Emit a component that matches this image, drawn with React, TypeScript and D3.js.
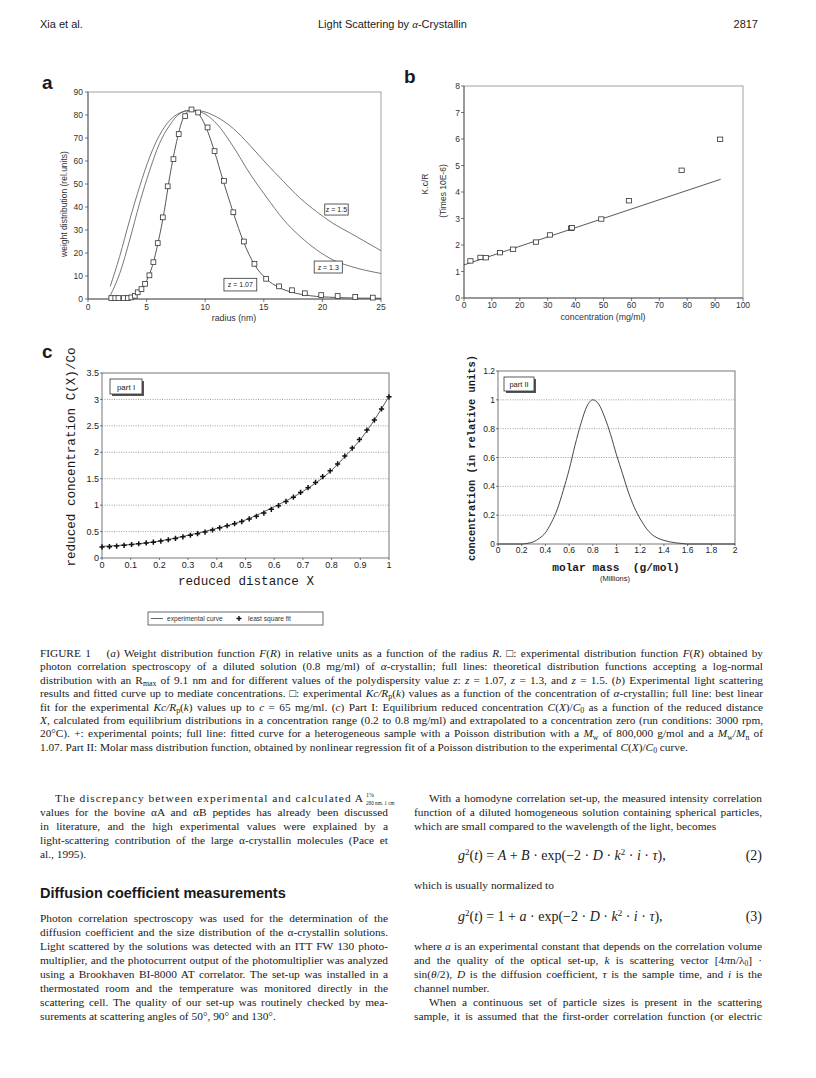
import React from 'react';
import * as d3 from 'd3';

// ---------- Panel a data ----------
const A_X_TICKS = [0, 5, 10, 15, 20, 25];
const A_Y_TICKS = [0, 10, 20, 30, 40, 50, 60, 70, 80, 90];
const A_SQ_X = [1.99, 2.33, 2.6, 3.05, 3.4, 3.7, 3.99, 4.24, 4.56, 4.87, 5.24, 5.58, 5.95, 6.38, 6.8, 7.29, 7.74, 8.29, 8.83, 9.4, 10.2, 10.8, 11.6, 12.4, 13.3, 14.2, 15.2, 16.3, 17.4, 18.5, 19.9, 21.3, 22.8, 24.3];
const A_SQ_Y = [0.4, 0.4, 0.4, 0.4, 0.4, 0.7, 1.4, 2.9, 4.3, 6.6, 10.3, 16.0, 24.3, 35.5, 49, 60.8, 71.7, 79.5, 82.4, 81.1, 74.6, 64.3, 51.4, 37.7, 25.0, 15.3, 8.8, 5.5, 3.8, 2.5, 1.7, 1.3, 0.9, 0.6];
const A_Z107_X = [1.9, 2.5, 3, 3.5, 4, 4.5, 5, 5.5, 6, 6.5, 7, 7.5, 8, 8.5, 8.8, 9.2, 9.7, 10.2, 10.8, 11.5, 12.4, 13.3, 14.2, 15.2, 16.3, 17.5, 19, 21, 23, 25];
const A_Z107_Y = [0, 0.1, 0.3, 0.6, 1.5, 4, 8, 14.5, 25, 38, 54, 67, 77, 81.5, 82.4, 81.8, 78.5, 73, 64, 52, 37.5, 24.5, 15, 8.8, 5, 2.8, 1.4, 0.7, 0.4, 0.3];
const A_Z13_X = [1.9, 2.7, 3.56, 4.4, 5.27, 6.1, 6.98, 7.83, 8.7, 9.54, 10.96, 12.4, 13.8, 15.2, 16.7, 18.1, 19.5, 20.9, 22.4, 25];
const A_Z13_Y = [1.5, 11, 25.7, 41.6, 56, 67.6, 75.6, 80.6, 82, 81.4, 76.3, 66.2, 54.6, 44.5, 34.4, 27.2, 21.4, 17, 14.2, 11.1];
const A_Z15_X = [1.9, 2.7, 3.56, 4.4, 5.27, 6.1, 6.98, 7.83, 8.7, 9.54, 10.96, 12.4, 13.8, 15.2, 16.7, 18.1, 19.5, 20.9, 22.4, 25];
const A_Z15_Y = [5.5, 18.5, 34.4, 48.8, 61.8, 71.2, 77.7, 80.9, 82, 81.8, 79.2, 74.1, 66.9, 59, 51, 43.8, 38, 32.9, 28.6, 21];
const A_LABELS = ['z = 1.5', 'z = 1.3', 'z = 1.07'];

// ---------- Panel b data ----------
const B_X_TICKS = [0, 10, 20, 30, 40, 50, 60, 70, 80, 90, 100];
const B_Y_TICKS = [0, 1, 2, 3, 4, 5, 6, 7, 8];
const B_SQ_X = [2.3, 5.9, 7.8, 12.9, 17.6, 25.8, 30.8, 38.4, 38.7, 49.2, 59.1, 78, 91.8];
const B_SQ_Y = [1.4, 1.53, 1.52, 1.71, 1.84, 2.11, 2.38, 2.63, 2.65, 2.98, 3.67, 4.82, 5.99];
const B_FIT_X = [0, 92];
const B_FIT_Y = [1.25, 4.48];

// ---------- Panel c part I data ----------
const C1_X_TICKS = [0, 0.1, 0.2, 0.3, 0.4, 0.5, 0.6, 0.7, 0.8, 0.9, 1];
const C1_X_LABELS = ['0', '0.1', '0.2', '0.3', '0.4', '0.5', '0.6', '0.7', '0.8', '0.9', '1'];
const C1_Y_TICKS = [0, 0.5, 1, 1.5, 2, 2.5, 3, 3.5];
const C1_Y_LABELS = ['0', '0.5', '1', '1.5', '2', '2.5', '3', '3.5'];
const C1_PT_X = [0, 0.026, 0.051, 0.077, 0.103, 0.128, 0.154, 0.179, 0.205, 0.231, 0.256, 0.282, 0.308, 0.333, 0.359, 0.385, 0.41, 0.436, 0.462, 0.487, 0.513, 0.538, 0.564, 0.59, 0.615, 0.641, 0.667, 0.692, 0.718, 0.744, 0.769, 0.795, 0.821, 0.846, 0.872, 0.897, 0.923, 0.949, 0.974, 1.0];
const C1_PT_Y = [0.21, 0.215, 0.225, 0.24, 0.255, 0.27, 0.285, 0.3, 0.32, 0.345, 0.37, 0.4, 0.43, 0.46, 0.49, 0.53, 0.57, 0.61, 0.65, 0.69, 0.74, 0.79, 0.85, 0.92, 0.99, 1.07, 1.15, 1.24, 1.33, 1.43, 1.54, 1.65, 1.78, 1.93, 2.08, 2.24, 2.42, 2.61, 2.82, 3.05];
const C1_CURVE_X = [0, 0.1, 0.2, 0.3, 0.4, 0.5, 0.6, 0.7, 0.8, 0.85, 0.9, 0.95, 1];
const C1_CURVE_Y = [0.22, 0.255, 0.32, 0.43, 0.56, 0.72, 0.97, 1.26, 1.66, 1.94, 2.24, 2.62, 3.06];

// ---------- Panel c part II data ----------
const C2_X_TICKS = [0, 0.2, 0.4, 0.6, 0.8, 1, 1.2, 1.4, 1.6, 1.8, 2];
const C2_X_LABELS = ['0', '0.2', '0.4', '0.6', '0.8', '1', '1.2', '1.4', '1.6', '1.8', '2'];
const C2_Y_TICKS = [0, 0.2, 0.4, 0.6, 0.8, 1, 1.2];
const C2_Y_LABELS = ['0', '0.2', '0.4', '0.6', '0.8', '1', '1.2'];
const C2_X = [0, 0.2, 0.25, 0.3, 0.35, 0.4, 0.45, 0.5, 0.55, 0.6, 0.65, 0.7, 0.75, 0.8, 0.85, 0.9, 0.95, 1.0, 1.05, 1.1, 1.15, 1.2, 1.25, 1.3, 1.35, 1.4, 1.45, 1.5, 1.55, 1.6, 2.0];
const C2_Y = [0, 0, 0.005, 0.015, 0.04, 0.078, 0.148, 0.24, 0.37, 0.515, 0.685, 0.836, 0.955, 1.0, 0.97, 0.88, 0.76, 0.618, 0.49, 0.36, 0.255, 0.175, 0.11, 0.065, 0.04, 0.025, 0.015, 0.008, 0.004, 0, 0];

const SANS = 'Liberation Sans, Arial, sans-serif';
const SERIF = 'Liberation Serif, Times New Roman, serif';
const MONO = 'Liberation Mono, Courier New, monospace';
const INK = '#1a1a1a';

// Justified text line: distributes extra width over word spaces
function JText({ x, y, width, fs, family = SERIF, children }: { x: number; y: number; width?: number; fs: number; family?: string; children: React.ReactNode }) {
  const ref = React.useRef<SVGTextElement>(null);
  React.useLayoutEffect(() => {
    const el = ref.current;
    if (!el || !width) return;
    el.setAttribute('word-spacing', '0');
    const nat = el.getComputedTextLength();
    const spaces = (el.textContent || '').split(' ').length - 1;
    if (spaces > 0) el.setAttribute('word-spacing', String((width - nat) / spaces));
  });
  return (
    <text ref={ref} x={x} y={y} fontFamily={family} fontSize={fs} fill={INK} style={{ whiteSpace: 'pre' }}>{children}</text>
  );
}

function PanelA() {
  const x = d3.scaleLinear().domain([0, 25]).range([88, 381]);
  const y = d3.scaleLinear().domain([0, 90]).range([299, 92]);
  const mk = (xs: number[], ys: number[]) =>
    d3.line<number>().x((d) => x(d)).y((_, i) => y(ys[i])).curve(d3.curveMonotoneX)(xs) || '';
  const labelBoxes = [
    { t: A_LABELS[0], x0: 20.2, x1: 22.2, y0: 41.3, y1: 36.5 },
    { t: A_LABELS[1], x0: 19.3, x1: 21.7, y0: 16.5, y1: 11.3 },
    { t: A_LABELS[2], x0: 11.6, x1: 14.4, y0: 9.0, y1: 3.5 },
  ];
  return (
    <g>
      <text x={42} y={89} fontFamily={SANS} fontWeight="bold" fontSize={19} fill={INK}>a</text>
      <rect x={88} y={92} width={293} height={207} fill="none" stroke="#8a8a8a" strokeWidth={0.8} />
      <line x1={88} x2={88} y1={92} y2={299} stroke="#444" strokeWidth={0.8} />
      <line x1={88} x2={381} y1={299} y2={299} stroke="#444" strokeWidth={0.8} />
      {A_Y_TICKS.map((t) => (
        <g key={'ay' + t}>
          <line x1={85} x2={88} y1={y(t)} y2={y(t)} stroke="#444" strokeWidth={0.7} />
          <text x={83} y={y(t) + 3} textAnchor="end" fontFamily={SANS} fontSize={8.5} fill="#333">{t}</text>
        </g>
      ))}
      {A_X_TICKS.map((t) => (
        <g key={'ax' + t}>
          <line x1={x(t)} x2={x(t)} y1={299} y2={302} stroke="#444" strokeWidth={0.7} />
          <text x={x(t)} y={310} textAnchor="middle" fontFamily={SANS} fontSize={8.5} fill="#333">{t}</text>
        </g>
      ))}
      <text x={234} y={321} textAnchor="middle" fontFamily={SANS} fontSize={8.8} fill="#333">radius (nm)</text>
      <text transform="translate(67,204) rotate(-90)" textAnchor="middle" fontFamily={SANS} fontSize={8.5} fill="#333">weight distribution (rel.units)</text>
      <path d={mk(A_Z15_X, A_Z15_Y)} fill="none" stroke="#555" strokeWidth={0.8} />
      <path d={mk(A_Z13_X, A_Z13_Y)} fill="none" stroke="#555" strokeWidth={0.8} />
      <path d={mk(A_Z107_X, A_Z107_Y)} fill="none" stroke="#444" strokeWidth={0.9} />
      {A_SQ_X.map((v, i) => (
        <rect key={'as' + i} x={x(v) - 2.4} y={y(A_SQ_Y[i]) - 2.4} width={4.8} height={4.8} fill="#fff" stroke="#333" strokeWidth={0.8} />
      ))}
      {labelBoxes.map((b) => (
        <g key={b.t}>
          <rect x={x(b.x0)} y={y(b.y0)} width={x(b.x1) - x(b.x0)} height={y(b.y1) - y(b.y0)} fill="#fff" stroke="#333" strokeWidth={0.8} />
          <text x={(x(b.x0) + x(b.x1)) / 2} y={(y(b.y0) + y(b.y1)) / 2 + 2.5} textAnchor="middle" fontFamily={SANS} fontSize={7} fill="#222">{b.t}</text>
        </g>
      ))}
    </g>
  );
}

function PanelB() {
  const x = d3.scaleLinear().domain([0, 100]).range([464, 743]);
  const y = d3.scaleLinear().domain([0, 8]).range([298, 86]);
  const fit = d3.line<number>().x((d) => x(d)).y((_, i) => y(B_FIT_Y[i]))(B_FIT_X) || '';
  return (
    <g>
      <text x={404} y={83} fontFamily={SANS} fontWeight="bold" fontSize={19} fill={INK}>b</text>
      <rect x={464} y={86} width={279} height={212} fill="none" stroke="#8a8a8a" strokeWidth={0.8} />
      <line x1={464} x2={464} y1={86} y2={298} stroke="#444" strokeWidth={0.8} />
      <line x1={464} x2={743} y1={298} y2={298} stroke="#444" strokeWidth={0.8} />
      {B_Y_TICKS.map((t) => (
        <g key={'by' + t}>
          <line x1={461} x2={464} y1={y(t)} y2={y(t)} stroke="#444" strokeWidth={0.7} />
          <text x={460} y={y(t) + 3} textAnchor="end" fontFamily={SANS} fontSize={8.5} fill="#333">{t}</text>
        </g>
      ))}
      {B_X_TICKS.map((t) => (
        <g key={'bx' + t}>
          <line x1={x(t)} x2={x(t)} y1={298} y2={301} stroke="#444" strokeWidth={0.7} />
          <text x={x(t)} y={308} textAnchor="middle" fontFamily={SANS} fontSize={8.5} fill="#333">{t}</text>
        </g>
      ))}
      <text x={603} y={320} textAnchor="middle" fontFamily={SANS} fontSize={8.8} fill="#333">concentration (mg/ml)</text>
      <text transform="translate(428,184) rotate(-90)" textAnchor="middle" fontFamily={SANS} fontSize={8.5} fill="#333">K.c/R</text>
      <text transform="translate(446,191) rotate(-90)" textAnchor="middle" fontFamily={SANS} fontSize={8.5} fill="#333">(Times 10E-6)</text>
      <path d={fit} fill="none" stroke="#444" strokeWidth={0.9} />
      {B_SQ_X.map((v, i) => (
        <rect key={'bs' + i} x={x(v) - 2.6} y={y(B_SQ_Y[i]) - 2.2} width={5.2} height={4.4} fill="#fff" stroke="#333" strokeWidth={0.8} />
      ))}
    </g>
  );
}

function PanelC1() {
  const x = d3.scaleLinear().domain([0, 1]).range([102, 389]);
  const y = d3.scaleLinear().domain([0, 3.5]).range([558, 373]);
  const curve = d3.line<number>().x((d) => x(d)).y((_, i) => y(C1_CURVE_Y[i])).curve(d3.curveMonotoneX)(C1_CURVE_X) || '';
  return (
    <g>
      <text x={42} y={358} fontFamily={SANS} fontWeight="bold" fontSize={19} fill={INK}>c</text>
      {C1_Y_TICKS.filter((t) => t > 0 && t < 3.5).map((t) => (
        <line key={'c1g' + t} x1={102} x2={389} y1={y(t)} y2={y(t)} stroke="#777" strokeWidth={0.7} strokeDasharray="1,1.4" />
      ))}
      <rect x={102} y={373} width={287} height={185} fill="none" stroke="#555" strokeWidth={0.8} />
      {C1_Y_TICKS.map((t, i) => (
        <g key={'c1y' + t}>
          <line x1={100} x2={102} y1={y(t)} y2={y(t)} stroke="#444" strokeWidth={0.7} />
          <text x={99} y={y(t) + 3.2} textAnchor="end" fontFamily={SANS} fontSize={9} fill="#222">{C1_Y_LABELS[i]}</text>
        </g>
      ))}
      {C1_X_TICKS.map((t, i) => (
        <g key={'c1x' + t}>
          <line x1={x(t)} x2={x(t)} y1={558} y2={560} stroke="#444" strokeWidth={0.7} />
          <text x={x(t)} y={568} textAnchor="middle" fontFamily={SANS} fontSize={9} fill="#222">{C1_X_LABELS[i]}</text>
        </g>
      ))}
      <text x={246} y={585} textAnchor="middle" fontFamily={MONO} fontSize={12.6} fill={INK}>reduced distance X</text>
      <text transform="translate(75,457) rotate(-90)" textAnchor="middle" fontFamily={MONO} fontSize={12.6} fill={INK}>reduced concentration C(X)/Co</text>
      <rect x={112} y={381} width={32} height={15} fill="#555" />
      <rect x={110} y={379} width={32} height={15} fill="#fff" stroke="#333" strokeWidth={0.8} />
      <text x={126} y={390} textAnchor="middle" fontFamily={SANS} fontSize={8} fill="#222">part I</text>
      <path d={curve} fill="none" stroke="#444" strokeWidth={0.9} />
      {C1_PT_X.map((v, i) => (
        <path key={'c1p' + i} d={`M${x(v) - 2.6},${y(C1_PT_Y[i])}H${x(v) + 2.6}M${x(v)},${y(C1_PT_Y[i]) - 2.6}V${y(C1_PT_Y[i]) + 2.6}`} stroke="#111" strokeWidth={1.5} />
      ))}
      <rect x={148} y={612} width={175} height={13} fill="#fff" stroke="#444" strokeWidth={0.8} />
      <line x1={151} x2={163} y1={618.5} y2={618.5} stroke="#555" strokeWidth={0.9} />
      <text x={167} y={621} fontFamily={SANS} fontSize={6.6} fill="#333">experimental curve</text>
      <path d="M236.5,618.5H241.5M239,616V621" stroke="#111" strokeWidth={1.4} />
      <text x={248} y={621} fontFamily={SANS} fontSize={6.6} fill="#333">least square fit</text>
    </g>
  );
}

function PanelC2() {
  const x = d3.scaleLinear().domain([0, 2]).range([498, 735]);
  const y = d3.scaleLinear().domain([0, 1.2]).range([544, 371]);
  const curve = d3.line<number>().x((d) => x(d)).y((_, i) => y(C2_Y[i])).curve(d3.curveMonotoneX)(C2_X) || '';
  return (
    <g>
      {C2_Y_TICKS.filter((t) => t > 0 && t < 1.2).map((t) => (
        <line key={'c2g' + t} x1={498} x2={735} y1={y(t)} y2={y(t)} stroke="#777" strokeWidth={0.7} strokeDasharray="1,1.4" />
      ))}
      <rect x={498} y={371} width={237} height={173} fill="none" stroke="#555" strokeWidth={0.8} />
      {C2_Y_TICKS.map((t, i) => (
        <g key={'c2y' + t}>
          <line x1={496} x2={498} y1={y(t)} y2={y(t)} stroke="#444" strokeWidth={0.7} />
          <text x={495} y={y(t) + 3} textAnchor="end" fontFamily={SANS} fontSize={8.5} fill="#222">{C2_Y_LABELS[i]}</text>
        </g>
      ))}
      {C2_X_TICKS.map((t, i) => (
        <g key={'c2x' + t}>
          <line x1={x(t)} x2={x(t)} y1={544} y2={546} stroke="#444" strokeWidth={0.7} />
          <text x={x(t)} y={553} textAnchor="middle" fontFamily={SANS} fontSize={8.5} fill="#222">{C2_X_LABELS[i]}</text>
        </g>
      ))}
      <text x={616} y={571} textAnchor="middle" fontFamily={MONO} fontWeight="bold" fontSize={11.2} fill={INK} style={{ whiteSpace: 'pre' }}>{'molar mass  (g/mol)'}</text>
      <text x={615} y={581} textAnchor="middle" fontFamily={SANS} fontSize={7.5} fill="#222">(Millions)</text>
      <text transform="translate(475,458) rotate(-90)" textAnchor="middle" fontFamily={MONO} fontWeight="bold" fontSize={10.4} fill={INK}>concentration (in relative units)</text>
      <rect x={506} y={379} width={30} height={14} fill="#555" />
      <rect x={504} y={377} width={30} height={14} fill="#fff" stroke="#333" strokeWidth={0.8} />
      <text x={519} y={387} textAnchor="middle" fontFamily={SANS} fontSize={7.5} fill="#222">part II</text>
      <path d={curve} fill="none" stroke="#333" strokeWidth={0.9} />
    </g>
  );
}

const I = ({ children }: { children: React.ReactNode }) => <tspan fontStyle="italic">{children}</tspan>;

function Caption() {
  const X0 = 40;
  const W = 723;
  const fs = 11.3;
  const y0 = 657;
  const dy = 13.4;
  const sub = (s: string, k: string) => <tspan key={k} dy={2.2} fontSize={7.8}>{s}</tspan>;
  const lines: React.ReactNode[] = [
    <>{'FIGURE 1\u2003 ('}<I>a</I>{') Weight distribution function '}<I>F</I>{'('}<I>R</I>{') in relative units as a function of the radius '}<I>R</I>{'. \u25A1: experimental distribution function '}<I>F</I>{'('}<I>R</I>{') obtained by'}</>,
    <>{'photon correlation spectroscopy of a diluted solution (0.8 mg/ml) of '}<I>{'\u03B1'}</I>{'-crystallin; full lines: theoretical distribution functions accepting a log-normal'}</>,
    <>{'distribution with an R'}{sub('max', 'l3')}<tspan dy={-2.2}>{' of 9.1 nm and for different values of the polydispersity value '}</tspan><I>z</I>{': '}<I>z</I>{' = 1.07, '}<I>z</I>{' = 1.3, and '}<I>z</I>{' = 1.5. ('}<I>b</I>{') Experimental light scattering'}</>,
    <>{'results and fitted curve up to mediate concentrations. \u25A1: experimental '}<I>Kc/R</I>{sub('p', 'l4')}<tspan dy={-2.2}>{'('}</tspan><I>k</I>{') values as a function of the concentration of '}<I>{'\u03B1'}</I>{'-crystallin; full line: best linear'}</>,
    <>{'fit for the experimental '}<I>Kc/R</I>{sub('p', 'l5')}<tspan dy={-2.2}>{'('}</tspan><I>k</I>{') values up to '}<I>c</I>{' = 65 mg/ml. ('}<I>c</I>{') Part I: Equilibrium reduced concentration '}<I>C</I>{'('}<I>X</I>{')/'}<I>C</I>{sub('0', 'l5b')}<tspan dy={-2.2}>{' as a function of the reduced distance'}</tspan></>,
    <><I>X</I>{', calculated from equilibrium distributions in a concentration range (0.2 to 0.8 mg/ml) and extrapolated to a concentration zero (run conditions: 3000 rpm,'}</>,
    <>{'20\u00B0C). +: experimental points; full line: fitted curve for a heterogeneous sample with a Poisson distribution with a '}<I>M</I>{sub('w', 'l7')}<tspan dy={-2.2}>{' of 800,000 g/mol and a '}</tspan><I>M</I>{sub('w', 'l7b')}<tspan dy={-2.2}>{'/'}</tspan><I>M</I>{sub('n', 'l7c')}<tspan dy={-2.2}>{' of'}</tspan></>,
    <>{'1.07. Part II: Molar mass distribution function, obtained by nonlinear regression fit of a Poisson distribution to the experimental '}<I>C</I>{'('}<I>X</I>{')/'}<I>C</I>{sub('0', 'l8')}<tspan dy={-2.2}>{' curve.'}</tspan></>,
  ];
  return (
    <g>
      {lines.map((l, i) => (
        <JText key={'cap' + i} x={X0} y={y0 + i * dy} fs={fs} width={i < 7 ? W : undefined}>{l}</JText>
      ))}
    </g>
  );
}

function Body() {
  const L = 40, R = 414, W = 348, fs = 11.4, dy = 14;
  const yL = 802;
  const leftP1 = [
    'values for the bovine \u03B1A and \u03B1B peptides has already been discussed',
    'in literature, and the high experimental values were explained by a',
    'light-scattering contribution of the large \u03B1-crystallin molecules (Pace et',
  ];
  const leftP2 = [
    'Photon correlation spectroscopy was used for the determination of the',
    'diffusion coefficient and the size distribution of the \u03B1-crystallin solutions.',
    'Light scattered by the solutions was detected with an ITT FW 130 photo-',
    'multiplier, and the photocurrent output of the photomultiplier was analyzed',
    'using a Brookhaven BI-8000 AT correlator. The set-up was installed in a',
    'thermostated room and the temperature was monitored directly in the',
    'scattering cell. The quality of our set-up was routinely checked by mea-',
  ];
  const yP2 = 922;
  const yR2 = 950;
  return (
    <g>
      {/* left column */}
      <text x={L + 15} y={yL} fontFamily={SERIF} fontSize={fs} fill={INK} textLength={363 - (L + 15)} lengthAdjust="spacing">{'The discrepancy between experimental and calculated A'}</text>
      <text x={366} y={yL - 5} fontFamily={SERIF} fontSize={6} fill={INK}>1%</text>
      <text x={366} y={yL + 2.5} fontFamily={SERIF} fontSize={5.2} fill={INK}>280 nm. 1 cm</text>
      {leftP1.map((s, i) => (
        <JText key={'lp1' + i} x={L} y={yL + (i + 1) * dy} fs={fs} width={W}>{s}</JText>
      ))}
      <JText x={L} y={yL + 4 * dy} fs={fs}>{'al., 1995).'}</JText>
      <text x={L} y={898} fontFamily={SANS} fontWeight="bold" fontSize={14.5} fill={INK}>Diffusion coefficient measurements</text>
      {leftP2.map((s, i) => (
        <JText key={'lp2' + i} x={L} y={yP2 + i * dy} fs={fs} width={W}>{s}</JText>
      ))}
      <JText x={L} y={yP2 + 7 * dy} fs={fs}>{'surements at scattering angles of 50\u00B0, 90\u00B0 and 130\u00B0.'}</JText>

      {/* right column */}
      <JText x={R + 15} y={yL} fs={fs} width={W - 15}>{'With a homodyne correlation set-up, the measured intensity correlation'}</JText>
      <JText x={R} y={yL + dy} fs={fs} width={W}>{'function of a diluted homogeneous solution containing spherical particles,'}</JText>
      <JText x={R} y={yL + 2 * dy} fs={fs}>{'which are small compared to the wavelength of the light, becomes'}</JText>

      <text x={458} y={860} fontFamily={SERIF} fontSize={14} fill={INK} style={{ whiteSpace: 'pre' }}>
        <I>g</I><tspan dy={-5} fontSize={9}>2</tspan><tspan dy={5}>(</tspan><I>t</I>{') = '}<I>A</I>{' + '}<I>B</I>{' \u00B7 exp(\u22122 \u00B7 '}<I>D</I>{' \u00B7 '}<I>k</I><tspan dy={-5} fontSize={9}>2</tspan><tspan dy={5}>{' \u00B7 '}</tspan><I>i</I>{' \u00B7 '}<I>{'\u03C4'}</I>{'),'}
      </text>
      <text x={762} y={860} textAnchor="end" fontFamily={SERIF} fontSize={14} fill={INK}>(2)</text>
      <JText x={R} y={889} fs={fs}>{'which is usually normalized to'}</JText>
      <text x={458} y={921} fontFamily={SERIF} fontSize={14} fill={INK} style={{ whiteSpace: 'pre' }}>
        <I>g</I><tspan dy={-5} fontSize={9}>2</tspan><tspan dy={5}>(</tspan><I>t</I>{') = 1 + '}<I>a</I>{' \u00B7 exp(\u22122 \u00B7 '}<I>D</I>{' \u00B7 '}<I>k</I><tspan dy={-5} fontSize={9}>2</tspan><tspan dy={5}>{' \u00B7 '}</tspan><I>i</I>{' \u00B7 '}<I>{'\u03C4'}</I>{'),'}
      </text>
      <text x={762} y={921} textAnchor="end" fontFamily={SERIF} fontSize={14} fill={INK}>(3)</text>
      <JText x={R} y={yR2} fs={fs} width={W}>{'where '}<I>a</I>{' is an experimental constant that depends on the correlation volume'}</JText>
      <JText x={R} y={yR2 + dy} fs={fs} width={W}>{'and the quality of the optical set-up, '}<I>k</I>{' is scattering vector [4'}<I>{'\u03C0'}</I>{'n/\u03BB'}<tspan dy={2} fontSize={7.5}>0</tspan><tspan dy={-2}>{'] \u00B7'}</tspan></JText>
      <JText x={R} y={yR2 + 2 * dy} fs={fs} width={W}>{'sin('}<I>{'\u03B8'}</I>{'/2), '}<I>D</I>{' is the diffusion coefficient, '}<I>{'\u03C4'}</I>{' is the sample time, and '}<I>i</I>{' is the'}</JText>
      <JText x={R} y={yR2 + 3 * dy} fs={fs}>{'channel number.'}</JText>
      <JText x={R + 15} y={yR2 + 4 * dy} fs={fs} width={W - 15}>{'When a continuous set of particle sizes is present in the scattering'}</JText>
      <JText x={R} y={yR2 + 5 * dy} fs={fs} width={W}>{'sample, it is assumed that the first-order correlation function (or electric'}</JText>
    </g>
  );
}

export default function App() {
  return (
    <svg width={816} height={1078} viewBox="0 0 816 1078" style={{ position: 'absolute', left: 0, top: 0, background: '#fff' }}>
      <rect x={0} y={0} width={816} height={1078} fill="#fff" />
      <text x={40} y={28} fontFamily={SANS} fontSize={11} fill={INK}>Xia et al.</text>
      <text x={318} y={28} fontFamily={SANS} fontSize={11} fill={INK}>Light Scattering by <tspan fontFamily={SERIF} fontStyle="italic">{'\u03B1'}</tspan>-Crystallin</text>
      <text x={758} y={28} textAnchor="end" fontFamily={SANS} fontSize={11} fill={INK}>2817</text>
      <PanelA />
      <PanelB />
      <PanelC1 />
      <PanelC2 />
      <Caption />
      <Body />
    </svg>
  );
}
